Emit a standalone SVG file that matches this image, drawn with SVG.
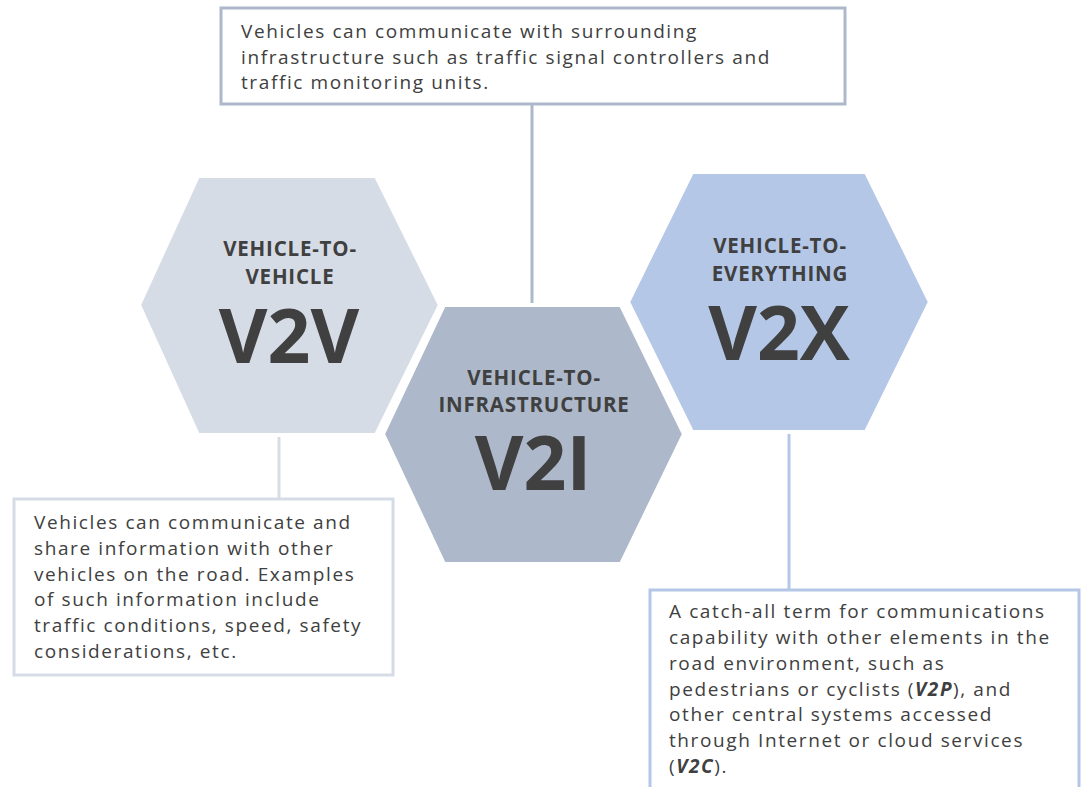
<svg xmlns="http://www.w3.org/2000/svg" width="1082" height="787" viewBox="0 0 1082 787">
<style>
.body{font-family:"Open Sans","Noto Sans",sans-serif;font-size:19px;fill:#404040;letter-spacing:1.6px}
.ttl{font-family:"Open Sans","Noto Sans",sans-serif;font-weight:bold;font-size:20.5px;fill:#404040;text-anchor:middle;letter-spacing:0.8px}
.big{font-family:"Open Sans","Noto Sans",sans-serif;font-weight:bold;font-size:75px;fill:#404040;text-anchor:middle}
.bx{fill:#fff;stroke-width:3}
.hex{stroke:#fff;stroke-width:4}
.bi{font-weight:bold;font-style:italic}
</style>
<rect width="1082" height="787" fill="#fff"/>
<g id="connectors" fill="none" stroke-width="3">
<line x1="532" y1="104" x2="532" y2="308" stroke="#ADB9CA"/>
<line x1="279" y1="433" x2="279" y2="499" stroke="#D6DCE5"/>
<line x1="789" y1="430" x2="789" y2="590" stroke="#B4C7E7"/>
</g>
<g id="v2v">
<polygon class="hex" fill="#D6DCE5" points="139,305 198,176 376,176 440,305 376,435 198,435"/>
<text class="ttl" x="290" y="256">VEHICLE-TO-</text>
<text class="ttl" x="290" y="284">VEHICLE</text>
<text class="big" x="289" y="363">V2V</text>
</g>
<g id="v2x">
<polygon class="hex" fill="#B4C7E7" points="628,302 692,172 866,172 930,302 866,432 692,432"/>
<text class="ttl" x="780" y="253">VEHICLE-TO-</text>
<text class="ttl" x="780" y="281">EVERYTHING</text>
<text class="big" x="779" y="360">V2X</text>
</g>
<g id="v2i">
<polygon class="hex" fill="#ADB9CA" points="383,434 444,305 621,305 684,434 621,564 444,564"/>
<text class="ttl" x="534" y="385">VEHICLE-TO-</text>
<text class="ttl" x="534" y="412">INFRASTRUCTURE</text>
<text class="big" x="533" y="490">V2I</text>
</g>
<g id="box-top">
<rect class="bx" x="221" y="8" width="624" height="96" stroke="#ADB9CA"/>
<text class="body" x="241" y="38">Vehicles can communicate with surrounding</text>
<text class="body" x="241" y="64">infrastructure such as traffic signal controllers and</text>
<text class="body" x="241" y="89">traffic monitoring units.</text>
</g>
<g id="box-left">
<rect class="bx" x="14" y="499" width="379" height="176" stroke="#D6DCE5"/>
<text class="body" x="34" y="529">Vehicles can communicate and</text>
<text class="body" x="34" y="555">share information with other</text>
<text class="body" x="34" y="581">vehicles on the road. Examples</text>
<text class="body" x="34" y="606">of such information include</text>
<text class="body" x="34" y="632">traffic conditions, speed, safety</text>
<text class="body" x="34" y="658">considerations, etc.</text>
</g>
<g id="box-right">
<rect class="bx" x="650" y="590" width="429" height="220" stroke="#B4C7E7"/>
<text class="body" x="669" y="618">A catch-all term for communications</text>
<text class="body" x="669" y="644">capability with other elements in the</text>
<text class="body" x="669" y="670">road environment, such as</text>
<text class="body" x="669" y="696">pedestrians or cyclists (<tspan class="bi">V2P</tspan>), and</text>
<text class="body" x="669" y="721">other central systems accessed</text>
<text class="body" x="669" y="747">through Internet or cloud services</text>
<text class="body" x="669" y="773">(<tspan class="bi">V2C</tspan>).</text>
</g>
</svg>
